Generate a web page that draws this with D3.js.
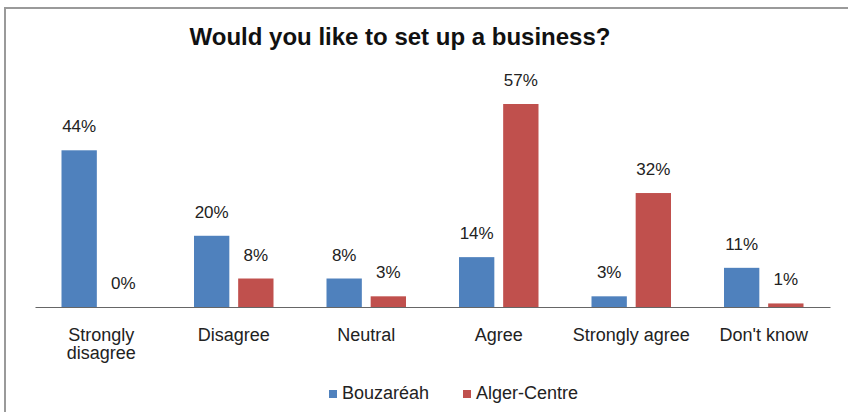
<!DOCTYPE html>
<html><head><meta charset="utf-8">
<script src="https://cdn.jsdelivr.net/npm/d3@7"></script>
<style>html,body{margin:0;padding:0;background:#fff;}</style>
</head><body>
<svg id="c" width="848" height="412"></svg>
<script>
const categories = ["Strongly disagree", "Disagree", "Neutral", "Agree", "Strongly agree", "Don't know"];
const seriesNames = ["Bouzaréah", "Alger-Centre"];
const bouzareah = [44, 20, 8, 14, 3, 11];
const algerCentre = [0, 8, 3, 57, 32, 1];
const colors = ["#4f81bd", "#c0504d"];
const title = "Would you like to set up a business?";

const svg = d3.select("#c");
const font = "'Liberation Sans', Arial, sans-serif";

// frame
svg.append("rect").attr("x", 5).attr("y", 8).attr("width", 860).attr("height", 420)
  .attr("fill", "#fff").attr("stroke", "#9a9a9a").attr("stroke-width", 2);

const left = 35, right = 830, base = 307;
const x0 = d3.scaleBand().domain(categories).range([left, right]).paddingInner(0).paddingOuter(0);
const x1 = d3.scaleBand().domain(seriesNames).range([0, x0.bandwidth()]).paddingInner(0.2).paddingOuter(0.6);
const y = d3.scaleLinear().domain([0, 57]).range([base, 104]);

svg.append("text").attr("x", 400).attr("y", 45).attr("text-anchor", "middle")
  .attr("font-family", font).attr("font-weight", "bold").attr("font-size", 24)
  .attr("fill", "#111").text(title);

const data = categories.map((c, i) => ({cat: c, vals: [bouzareah[i], algerCentre[i]]}));

const g = svg.append("g").selectAll("g").data(data).join("g")
  .attr("transform", d => `translate(${x0(d.cat)},0)`);

g.selectAll("rect").data(d => d.vals.map((v, j) => ({v, s: seriesNames[j], j})))
  .join("rect")
  .attr("x", d => x1(d.s)).attr("width", x1.bandwidth())
  .attr("y", d => y(d.v)).attr("height", d => base - y(d.v))
  .attr("fill", d => colors[d.j]);

g.selectAll("text").data(d => d.vals.map((v, j) => ({v, s: seriesNames[j], j})))
  .join("text")
  .attr("x", d => x1(d.s) + x1.bandwidth() / 2).attr("y", d => y(d.v) - 18)
  .attr("text-anchor", "middle").attr("font-family", font).attr("font-size", 17)
  .attr("fill", "#222").text(d => d.v + "%");

// axis
const axis = d3.axisBottom(x0).tickSize(0).tickPadding(0);
const ax = svg.append("g").attr("transform", `translate(0,${base})`).call(axis);
ax.select(".domain").attr("stroke", "#666").attr("stroke-width", 1.2);
ax.selectAll(".tick text").remove();
ax.selectAll(".tick").each(function(d) {
  const t = d3.select(this).append("text").attr("text-anchor", "middle")
    .attr("font-family", font).attr("font-size", 18).attr("fill", "#222");
  const lines = d === "Strongly disagree" ? ["Strongly", "disagree"] : [d];
  lines.forEach((l, i) => t.append("tspan").attr("x", 0).attr("y", 34 + i * 18).text(l));
});

// legend
const legend = svg.append("g");
const lx = [329, 463];
seriesNames.forEach((n, i) => {
  legend.append("rect").attr("x", lx[i]).attr("y", 390).attr("width", 8).attr("height", 8).attr("fill", colors[i]);
  legend.append("text").attr("x", lx[i] + 13).attr("y", 399).attr("font-family", font)
    .attr("font-size", 18).attr("fill", "#222").text(n);
});
</script>
</body></html>
